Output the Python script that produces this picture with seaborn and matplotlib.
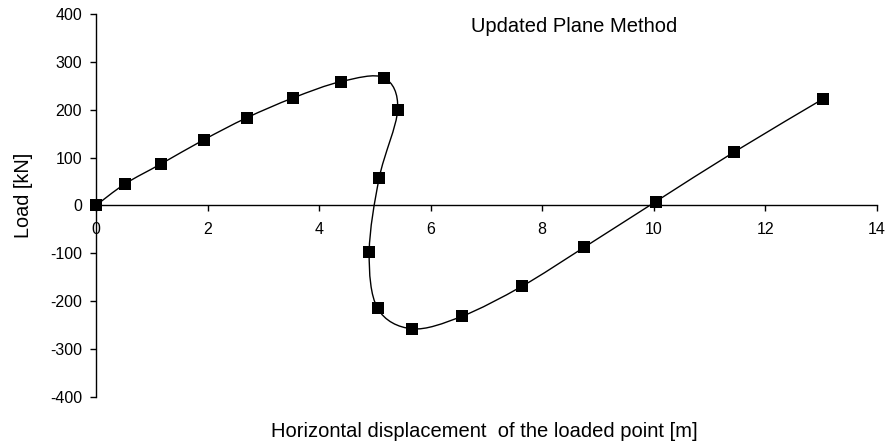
import numpy as np
import pandas as pd
import matplotlib
matplotlib.use("Agg")
import matplotlib.pyplot as plt
from matplotlib.path import Path
from matplotlib.patches import PathPatch
import seaborn as sns

# Data
displacement = [0.0, 0.52, 1.17, 1.93, 2.70, 3.54, 4.40, 5.16, 5.41, 5.08,
                4.90, 5.05, 5.67, 6.56, 7.64, 8.75, 10.04, 11.45, 13.03]
load = [0, 45, 87, 137, 183, 225, 259, 267, 200, 58,
        -97, -215, -258, -232, -169, -88, 8, 112, 222]
x_ticks = [0, 2, 4, 6, 8, 10, 12, 14]
y_ticks = [-400, -300, -200, -100, 0, 100, 200, 300, 400]

df = pd.DataFrame({"x": displacement, "y": load})

sns.set_theme(style="white")
plt.rcParams["font.family"] = ["Liberation Sans", "DejaVu Sans"]

fig = plt.figure(figsize=(8.85, 4.47), dpi=100)
ax = fig.add_axes([0.1085, 0.1125, 0.882, 0.856])

# Smoothed line (Catmull-Rom style Bezier, like a spreadsheet's smooth line)
pts = df[["x", "y"]].to_numpy(dtype=float)
n = len(pts)
verts = [pts[0]]
codes = [Path.MOVETO]
for i in range(n - 1):
    p0 = pts[i - 1] if i > 0 else pts[i]
    p1 = pts[i]
    p2 = pts[i + 1]
    p3 = pts[i + 2] if i + 2 < n else pts[i + 1]
    c1 = p1 + (p2 - p0) / 6.0
    c2 = p2 - (p3 - p1) / 6.0
    verts += [c1, c2, p2]
    codes += [Path.CURVE4] * 3
ax.add_patch(PathPatch(Path(verts, codes), facecolor="none", edgecolor="black",
                       lw=1.0, zorder=2))

sns.scatterplot(data=df, x="x", y="y", marker="s", s=75, color="black",
                edgecolor="black", linewidth=0, ax=ax, zorder=3, clip_on=False)

ax.set_xlim(0, 14)
ax.set_ylim(-400, 400)
ax.set_xticks(x_ticks)
ax.set_yticks(y_ticks)
ax.set_xticklabels([str(v) for v in x_ticks])
ax.set_yticklabels([str(v) for v in y_ticks])

for s in ["top", "right"]:
    ax.spines[s].set_visible(False)
ax.spines["bottom"].set_position(("data", 0))
ax.spines["left"].set_position(("data", 0))
for s in ["bottom", "left"]:
    ax.spines[s].set_color("black")
    ax.spines[s].set_linewidth(1.0)
ax.xaxis.set_ticks_position("bottom")
ax.yaxis.set_ticks_position("left")
ax.tick_params(axis="both", direction="out", length=4, width=1, color="black",
               labelcolor="black", labelsize=11.5)
ax.tick_params(axis="y", pad=6)
ax.tick_params(axis="x", pad=8)

ax.set_xlabel("")
ax.set_ylabel("")
fig.text(0.5475, 0.034, "Horizontal displacement  of the loaded point [m]",
         ha="center", va="center", fontsize=14.5, color="black")
fig.text(0.026, 0.5626, "Load [kN]", rotation=90, ha="center", va="center",
         fontsize=14.3, color="black")
ax.text(8.57, 374, "Updated Plane Method", ha="center", va="center",
        fontsize=14.5, color="black")

ax.grid(False)
fig.savefig("out.png", dpi=100, facecolor="white")
